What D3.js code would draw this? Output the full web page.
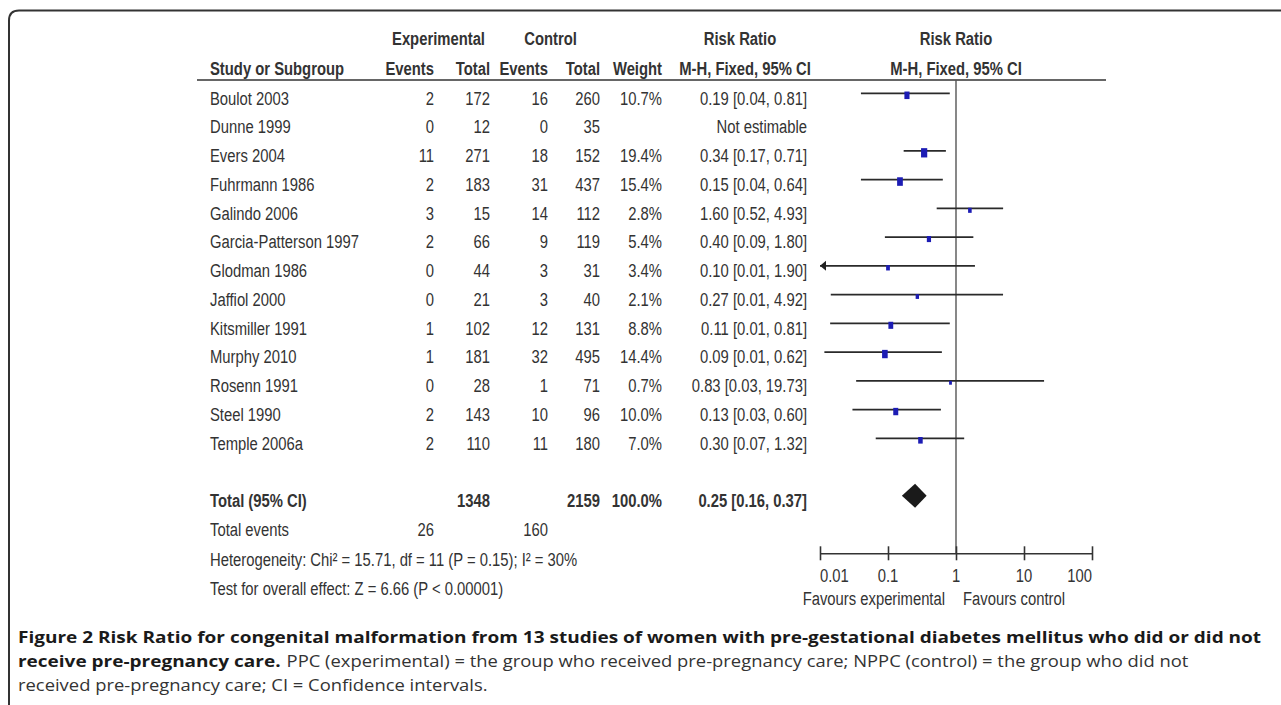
<!DOCTYPE html>
<html>
<head>
<meta charset="utf-8">
<script src="https://cdn.jsdelivr.net/npm/d3@7"></script>
<style>
  html, body { margin: 0; padding: 0; background: #fff; }
  svg { display: block; }
</style>
</head>
<body>
<svg id="chart" width="1281" height="705"></svg>
<script>
// ---------------- data ----------------
const studies = ["Boulot 2003", "Dunne 1999", "Evers 2004", "Fuhrmann 1986", "Galindo 2006",
  "Garcia-Patterson 1997", "Glodman 1986", "Jaffiol 2000", "Kitsmiller 1991", "Murphy 2010",
  "Rosenn 1991", "Steel 1990", "Temple 2006a"];
const expEvents  = [2, 0, 11, 2, 3, 2, 0, 0, 1, 1, 0, 2, 2];
const expTotal   = [172, 12, 271, 183, 15, 66, 44, 21, 102, 181, 28, 143, 110];
const ctrlEvents = [16, 0, 18, 31, 14, 9, 3, 3, 12, 32, 1, 10, 11];
const ctrlTotal  = [260, 35, 152, 437, 112, 119, 31, 40, 131, 495, 71, 96, 180];
const weights    = [10.7, null, 19.4, 15.4, 2.8, 5.4, 3.4, 2.1, 8.8, 14.4, 0.7, 10.0, 7.0];
const riskRatio  = [0.19, null, 0.34, 0.15, 1.60, 0.40, 0.10, 0.27, 0.11, 0.09, 0.83, 0.13, 0.30];
const ciLow      = [0.04, null, 0.17, 0.04, 0.52, 0.09, 0.0053, 0.0144, 0.0141, 0.0116, 0.034, 0.03, 0.066];
const ciHigh     = [0.81, null, 0.71, 0.64, 4.93, 1.80, 1.90, 4.92, 0.81, 0.62, 19.73, 0.60, 1.32];

const totalLabel = "Total (95% CI)";
const totalExpN = 1348, totalCtrlN = 2159, totalWeight = 100.0;
const totalRR = 0.25, totalLow = 0.16, totalHigh = 0.37;
const totalExpEvents = 26, totalCtrlEvents = 160;
const heterogeneityText = "Heterogeneity: Chi² = 15.71, df = 11 (P = 0.15); I² = 30%";
const overallText = "Test for overall effect: Z = 6.66 (P < 0.00001)";

const axisTicks = [0.01, 0.1, 1, 10, 100];
const axisTickLabels = ["0.01", "0.1", "1", "10", "100"];
const favourLeft = "Favours experimental", favourRight = "Favours control";

const headerTop = ["Experimental", "Control", "Risk Ratio", "Risk Ratio"];
const headerBottom = ["Study or Subgroup", "Events", "Total", "Events", "Total", "Weight", "M-H, Fixed, 95% CI", "M-H, Fixed, 95% CI"];

const captionLine1 = "Figure 2 Risk Ratio for congenital malformation from 13 studies of women with pre-gestational diabetes mellitus who did or did not";
const captionLine2Bold = "receive pre-pregnancy care.";
const captionLine2 = "PPC (experimental) = the group who received pre-pregnancy care; NPPC (control) = the group who did not";
const captionLine3 = "received pre-pregnancy care; CI = Confidence intervals.";

// ---------------- drawing ----------------
const svg = d3.select("#chart");
const FONT = "'Liberation Sans', Arial, sans-serif";
const FS = 19, SX = 0.78;
const TXT = "#333";

const f2 = d3.format(".2f"), f1 = d3.format(".1f");

// columns (right edges unless noted)
const col = { name: 210, expEv: 434, expTot: 490, ctlEv: 548, ctlTot: 600, weight: 662, rr: 807 };

// scales
const x = d3.scaleLog().domain([0.01, 100]).range([820, 1092]);
const rowY = d3.scaleLinear().domain([0, 17]).range([97.7, 97.7 + 17 * 28.75]);
const sqW = d3.scaleSqrt().domain([0, 20]).range([2, 6.25]);
const sqH = d3.scaleSqrt().domain([0, 20]).range([2.5, 9.4]);

function txt(xp, yp, s, anchor, bold, size) {
  return svg.append("text")
    .attr("transform", `translate(${xp},${yp}) scale(${SX},1)`)
    .attr("text-anchor", anchor || "start")
    .attr("font-family", FONT)
    .attr("font-size", size || FS)
    .attr("font-weight", bold ? "bold" : "normal")
    .attr("fill", TXT)
    .text(s);
}

// frame
svg.append("path")
  .attr("d", "M9,712 L9,20.5 Q9,10.5 19,10.5 L1290,10.5")
  .attr("fill", "none").attr("stroke", "#333").attr("stroke-width", 2);

// headers
const hb1 = 45, hb2 = 75;
txt((col.expEv - 47 + col.expTot) / 2, hb1, headerTop[0], "middle", true);
txt((col.ctlEv - 47 + col.ctlTot) / 2, hb1, headerTop[1], "middle", true);
txt(740, hb1, headerTop[2], "middle", true);
txt(x(1), hb1, headerTop[3], "middle", true);
txt(col.name, hb2, headerBottom[0], "start", true);
txt(col.expEv, hb2, headerBottom[1], "end", true);
txt(col.expTot, hb2, headerBottom[2], "end", true);
txt(col.ctlEv, hb2, headerBottom[3], "end", true);
txt(col.ctlTot, hb2, headerBottom[4], "end", true);
txt(col.weight, hb2, headerBottom[5], "end", true);
txt(745, hb2, headerBottom[6], "middle", true);
txt(x(1), hb2, headerBottom[7], "middle", true);

// header rule
svg.append("line").attr("x1", 197).attr("x2", 1106).attr("y1", 80).attr("y2", 80)
  .attr("stroke", "#333").attr("stroke-width", 1.6);

// vertical line of no effect
svg.append("line").attr("x1", x(1)).attr("x2", x(1)).attr("y1", 80).attr("y2", 553.3)
  .attr("stroke", "#555").attr("stroke-width", 1.4);

// study rows
const base = 6.8;
studies.forEach((s, i) => {
  const yc = rowY(i);
  const yb = yc + base;
  txt(col.name, yb, s, "start", false);
  txt(col.expEv, yb, expEvents[i], "end", false);
  txt(col.expTot, yb, expTotal[i], "end", false);
  txt(col.ctlEv, yb, ctrlEvents[i], "end", false);
  txt(col.ctlTot, yb, ctrlTotal[i], "end", false);
  if (weights[i] != null) txt(col.weight, yb, f1(weights[i]) + "%", "end", false);
  if (riskRatio[i] == null) {
    txt(col.rr, yb, "Not estimable", "end", false);
    return;
  }
  txt(col.rr, yb, `${f2(riskRatio[i])} [${f2(ciLow[i])}, ${f2(ciHigh[i])}]`, "end", false);

  const ly = yc - 4.4;
  const lo = Math.max(ciLow[i], 0.01), hi = Math.min(ciHigh[i], 100);
  svg.append("line").attr("x1", x(lo)).attr("x2", x(hi)).attr("y1", ly).attr("y2", ly)
    .attr("stroke", "#2a2a2a").attr("stroke-width", 1.8);
  if (ciLow[i] < 0.01) {
    const ax = x(0.01);
    svg.append("path").attr("d", `M${ax},${ly} L${ax + 6},${ly - 5} L${ax + 6},${ly + 5} Z`)
      .attr("fill", "#222");
  }
  const w = sqW(weights[i]), h = sqH(weights[i]);
  svg.append("rect").attr("x", x(riskRatio[i]) - w / 2).attr("y", ly + 2 - h / 2)
    .attr("width", w).attr("height", h).attr("fill", "#1c1cb4");
});

// total row
const ti = 14;
const tyb = rowY(ti) + base;
txt(col.name, tyb, totalLabel, "start", true);
txt(col.expTot, tyb, totalExpN, "end", true);
txt(col.ctlTot, tyb, totalCtrlN, "end", true);
txt(col.weight, tyb, f1(totalWeight) + "%", "end", true);
txt(col.rr, tyb, `${f2(totalRR)} [${f2(totalLow)}, ${f2(totalHigh)}]`, "end", true);
const dy = rowY(ti) - 4.4;
svg.append("path")
  .attr("d", `M${x(totalLow)},${dy} L${x(totalRR)},${dy - 12} L${x(totalHigh)},${dy} L${x(totalRR)},${dy + 12} Z`)
  .attr("fill", "#1a1a1a");

// footer stats
txt(col.name, rowY(15) + base, "Total events", "start", false);
txt(col.expEv, rowY(15) + base, totalExpEvents, "end", false);
txt(col.ctlEv, rowY(15) + base, totalCtrlEvents, "end", false);
txt(col.name, rowY(16) + base + 1, heterogeneityText, "start", false);
txt(col.name, rowY(17) + base + 1.5, overallText, "start", false);

// axis
const axisY = 553.3;
const axisG = svg.append("g").attr("transform", `translate(0,${axisY})`)
  .call(d3.axisBottom(x).tickValues(axisTicks).tickSize(7).tickSizeOuter(0).tickFormat(""));
axisG.select(".domain").attr("stroke", "#333").attr("stroke-width", 1.6);
axisG.selectAll(".tick line").attr("y1", -7).attr("y2", 7).attr("stroke", "#333").attr("stroke-width", 1.6);
axisTicks.forEach((t, i) => {
  const anchor = i === 0 ? "start" : (i === axisTicks.length - 1 ? "end" : "middle");
  txt(x(t), 582, axisTickLabels[i], anchor, false);
});
txt(x(1) - 11, 605, favourLeft, "end", false);
txt(x(1) + 7, 605, favourRight, "start", false);

// caption: bold fitted to line 1 width, regular fitted to line 3 width
const CAPF = "'Open Sans', 'Noto Sans', sans-serif";
function capText(s, bold) {
  return svg.append("text")
    .attr("font-family", CAPF).attr("font-size", 15.5)
    .attr("font-weight", bold ? "bold" : "normal")
    .attr("fill", bold ? "#1a1a1a" : "#333")
    .text(s);
}
const c1 = capText(captionLine1, true);
const c2b = capText(captionLine2Bold, true);
const c2 = capText(captionLine2, false);
const c3 = capText(captionLine3, false);
const kb = 1244 / c1.node().getComputedTextLength();
const kr = 470 / c3.node().getComputedTextLength();
const capX = 18;
c1.attr("transform", `translate(${capX},643) scale(${kb},1)`);
c2b.attr("transform", `translate(${capX},667) scale(${kb},1)`);
const boldEnd = capX + c2b.node().getComputedTextLength() * kb;
c2.attr("transform", `translate(${boldEnd + 6},667) scale(${kr},1)`);
c3.attr("transform", `translate(${capX},691) scale(${kr},1)`);
</script>
</body>
</html>
